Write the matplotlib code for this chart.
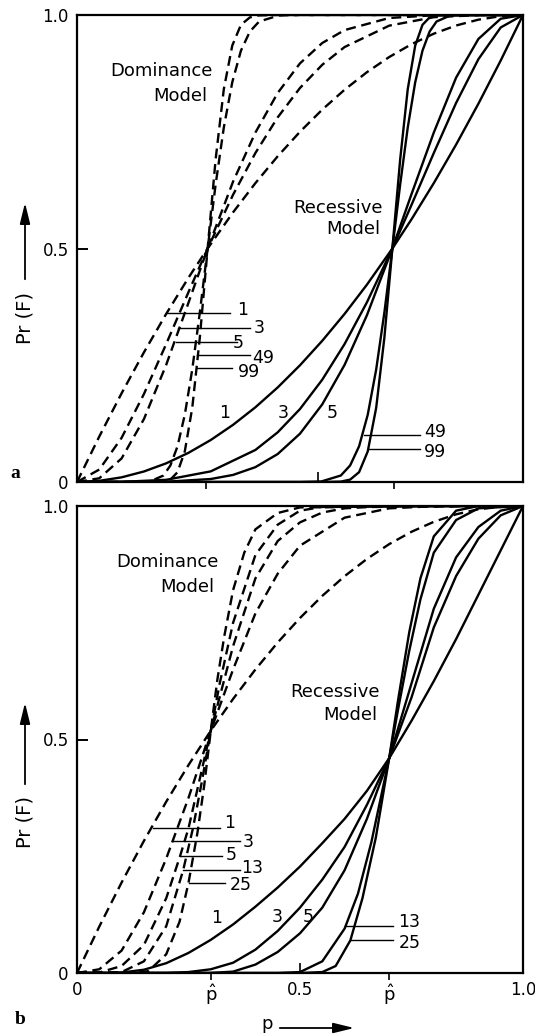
import matplotlib
matplotlib.use("Agg")
import matplotlib.pyplot as plt

plt.rcParams['font.family'] = ['DejaVu Sans']
plt.rcParams['mathtext.fontset'] = 'dejavusans'

# ---- panel a: dominance model (dashed)
a_dom = {
    1: ([0, 0.05, 0.1, 0.15, 0.2, 0.25, 0.2929, 0.35, 0.4, 0.45, 0.5, 0.55, 0.6, 0.65, 0.7, 0.75, 0.8, 0.85, 0.9, 0.95, 1.0],
        [0, 0.0975, 0.19, 0.2775, 0.36, 0.4375, 0.5, 0.5775, 0.64, 0.6975, 0.75, 0.7975, 0.84, 0.8775, 0.91, 0.9375, 0.96, 0.9775, 0.99, 0.9975, 1.0]),
    3: ([0, 0.05, 0.1, 0.15, 0.2, 0.25, 0.2929, 0.35, 0.4, 0.45, 0.5, 0.55, 0.6, 0.7, 0.8, 0.9, 1.0],
        [0, 0.0267, 0.0946, 0.1883, 0.2955, 0.4067, 0.5, 0.6153, 0.7045, 0.7808, 0.8438, 0.8935, 0.9314, 0.9772, 0.9953, 0.9997, 1.0]),
    5: ([0, 0.05, 0.1, 0.15, 0.2, 0.25, 0.2929, 0.35, 0.4, 0.45, 0.5, 0.55, 0.6, 0.7, 0.8, 1.0],
        [0, 0.008, 0.0505, 0.1346, 0.2509, 0.384, 0.5, 0.6434, 0.7483, 0.8331, 0.8965, 0.9401, 0.9677, 0.9936, 0.9994, 1.0]),
    49: ([0, 0.1, 0.134, 0.1633, 0.1938, 0.2094, 0.2254, 0.2417, 0.2584, 0.2754, 0.2929, 0.3108, 0.3292, 0.3481, 0.3675, 0.3876, 0.4084, 0.4523, 0.5, 1.0],
         [0, 0, 0, 0.0011, 0.0139, 0.0354, 0.0765, 0.1441, 0.2409, 0.363, 0.5, 0.637, 0.7591, 0.8559, 0.9235, 0.9646, 0.9861, 0.9989, 1.0, 1.0]),
    99: ([0, 0.1, 0.134, 0.1633, 0.1938, 0.2094, 0.2254, 0.2417, 0.2584, 0.2754, 0.2929, 0.3108, 0.3292, 0.3481, 0.3675, 0.3876, 0.4084, 0.4523, 0.5, 1.0],
         [0, 0, 0, 0, 0.0009, 0.0051, 0.0211, 0.0655, 0.1587, 0.3092, 0.5, 0.6908, 0.8413, 0.9345, 0.9789, 0.9949, 0.9991, 1.0, 1.0, 1.0]),
}

# ---- panel a: recessive model (solid)
a_rec = {
    1: ([0, 0.05, 0.1, 0.15, 0.2, 0.25, 0.3, 0.35, 0.4, 0.45, 0.5, 0.55, 0.6, 0.65, 0.7071, 0.75, 0.8, 0.85, 0.9, 0.95, 1.0],
        [0, 0.0025, 0.01, 0.0225, 0.04, 0.0625, 0.09, 0.1225, 0.16, 0.2025, 0.25, 0.3025, 0.36, 0.4225, 0.5, 0.5625, 0.64, 0.7225, 0.81, 0.9025, 1.0]),
    3: ([0, 0.1, 0.2, 0.3, 0.4, 0.45, 0.5, 0.55, 0.6, 0.65, 0.7071, 0.75, 0.8, 0.85, 0.9, 0.95, 1.0],
        [0, 0.0003, 0.0047, 0.0228, 0.0686, 0.1064, 0.1563, 0.2192, 0.2955, 0.3847, 0.5, 0.5933, 0.7045, 0.8117, 0.9054, 0.9733, 1.0]),
    5: ([0, 0.2, 0.3, 0.35, 0.4, 0.45, 0.5, 0.55, 0.6, 0.65, 0.7071, 0.75, 0.8, 0.85, 0.9, 0.95, 1.0],
        [0, 0.0006, 0.0064, 0.0152, 0.0318, 0.0599, 0.1035, 0.1664, 0.2509, 0.357, 0.5, 0.6164, 0.7483, 0.8659, 0.9487, 0.992, 1.0]),
    49: ([0, 0.5, 0.5477, 0.5916, 0.6124, 0.6325, 0.6519, 0.6708, 0.6892, 0.7071, 0.7246, 0.7416, 0.7583, 0.7746, 0.7906, 0.8062, 0.8367, 0.87, 1.0],
         [0, 0, 0.0011, 0.0139, 0.0354, 0.0765, 0.1441, 0.2409, 0.363, 0.5, 0.637, 0.7591, 0.8559, 0.9235, 0.9646, 0.9861, 0.9989, 1.0, 1.0]),
    99: ([0, 0.5, 0.5477, 0.5916, 0.6124, 0.6325, 0.6519, 0.6708, 0.6892, 0.7071, 0.7246, 0.7416, 0.7583, 0.7746, 0.7906, 0.8062, 0.8367, 0.87, 1.0],
         [0, 0, 0, 0.0009, 0.0051, 0.0211, 0.0655, 0.1587, 0.3092, 0.5, 0.6908, 0.8413, 0.9345, 0.9789, 0.9949, 0.9991, 1.0, 1.0, 1.0]),
}

# ---- panel b: dominance model (dashed)
b_dom = {
    1: ([0, 0.05, 0.1, 0.15, 0.2, 0.25, 0.3, 0.35, 0.4, 0.45, 0.5, 0.55, 0.6, 0.65, 0.7, 0.75, 0.8, 0.85, 0.9, 0.96, 1.0],
        [0, 0.0995, 0.1938, 0.2828, 0.3667, 0.4453, 0.519, 0.5869, 0.6499, 0.7077, 0.7602, 0.8076, 0.8497, 0.8866, 0.9184, 0.9448, 0.9661, 0.9822, 0.9931, 0.9992, 1.0]),
    3: ([0, 0.05, 0.1, 0.15, 0.2, 0.25, 0.3, 0.35, 0.4, 0.45, 0.5, 0.6, 0.7, 0.8, 0.9, 1.0],
        [0, 0.008, 0.048, 0.13, 0.245, 0.375, 0.519, 0.65, 0.77, 0.855, 0.915, 0.975, 0.995, 0.9995, 1.0, 1.0]),
    5: ([0, 0.05, 0.1, 0.15, 0.2, 0.231, 0.25, 0.3, 0.35, 0.4, 0.45, 0.5, 0.55, 0.6, 0.67, 0.8, 1.0],
        [0, 0.001, 0.015, 0.06, 0.16, 0.25, 0.31, 0.519, 0.7, 0.845, 0.925, 0.965, 0.986, 0.995, 0.999, 1.0, 1.0]),
    13: ([0, 0.1, 0.15, 0.2, 0.238, 0.26, 0.28, 0.3, 0.32, 0.35, 0.4, 0.45, 0.5, 0.55, 1.0],
         [0, 0.002, 0.025, 0.1, 0.22, 0.31, 0.41, 0.519, 0.62, 0.75, 0.895, 0.96, 0.99, 0.998, 1.0]),
    25: ([0, 0.12, 0.16, 0.2, 0.23, 0.25, 0.27, 0.285, 0.3, 0.315, 0.33, 0.35, 0.375, 0.4, 0.45, 0.5, 1.0],
         [0, 0, 0.004, 0.04, 0.11, 0.193, 0.3, 0.4, 0.519, 0.63, 0.72, 0.82, 0.9, 0.95, 0.985, 0.997, 1.0]),
}

# ---- panel b: recessive model (solid)
b_rec = {
    1: ([0, 0.07, 0.1, 0.15, 0.2, 0.25, 0.3, 0.35, 0.4, 0.45, 0.5, 0.55, 0.6, 0.65, 0.7, 0.75, 0.8, 0.85, 0.9, 0.95, 1.0],
        [0, 0, 0.001, 0.007, 0.021, 0.043, 0.071, 0.104, 0.142, 0.183, 0.228, 0.278, 0.33, 0.39, 0.46, 0.54, 0.625, 0.715, 0.81, 0.905, 1.0]),
    3: ([0, 0.2, 0.25, 0.3, 0.35, 0.4, 0.45, 0.5, 0.55, 0.6, 0.65, 0.7, 0.75, 0.8, 0.85, 0.9, 0.95, 1.0],
        [0, 0, 0.002, 0.008, 0.022, 0.05, 0.09, 0.14, 0.2, 0.27, 0.36, 0.46, 0.59, 0.74, 0.85, 0.93, 0.98, 1.0]),
    5: ([0, 0.3, 0.35, 0.4, 0.45, 0.5, 0.55, 0.6, 0.65, 0.7, 0.75, 0.8, 0.85, 0.9, 0.95, 1.0],
        [0, 0, 0.003, 0.018, 0.045, 0.085, 0.14, 0.22, 0.33, 0.46, 0.62, 0.78, 0.89, 0.955, 0.99, 1.0]),
    13: ([0, 0.45, 0.5, 0.55, 0.6, 0.63, 0.66, 0.7, 0.72, 0.745, 0.77, 0.8, 0.85, 0.9, 1.0],
         [0, 0, 0.002, 0.025, 0.095, 0.17, 0.28, 0.46, 0.565, 0.69, 0.8, 0.9, 0.97, 0.995, 1.0]),
    25: ([0, 0.5, 0.55, 0.58, 0.613, 0.64, 0.67, 0.7, 0.72, 0.745, 0.77, 0.8, 0.85, 0.9, 1.0],
         [0, 0, 0.002, 0.015, 0.07, 0.16, 0.29, 0.46, 0.585, 0.73, 0.845, 0.935, 0.99, 1.0, 1.0]),
}

# curve labels: (text, label x, label y, leader x0, leader x1, leader y)
a_dom_labels = [("1", 0.372, 0.368, 0.201, 0.343, 0.362),
                ("3", 0.408, 0.330, 0.226, 0.388, 0.330),
                ("5", 0.362, 0.298, 0.222, 0.359, 0.300),
                ("49", 0.418, 0.266, 0.270, 0.388, 0.272),
                ("99", 0.385, 0.236, 0.268, 0.348, 0.244)]
a_rec_labels = [("1", 0.332, 0.148), ("3", 0.462, 0.148), ("5", 0.572, 0.148)]
a_rec_lead = [("49", 0.803, 0.107, 0.643, 0.769, 0.101),
              ("99", 0.803, 0.064, 0.655, 0.769, 0.071)]

b_dom_labels = [("1", 0.343, 0.321, 0.171, 0.321, 0.310),
                ("3", 0.383, 0.281, 0.214, 0.365, 0.283),
                ("5", 0.345, 0.253, 0.231, 0.325, 0.251),
                ("13", 0.392, 0.225, 0.238, 0.365, 0.221),
                ("25", 0.367, 0.188, 0.250, 0.332, 0.193)]
b_rec_labels = [("1", 0.314, 0.118), ("3", 0.448, 0.120), ("5", 0.518, 0.120)]
b_rec_lead = [("13", 0.745, 0.109, 0.601, 0.709, 0.101),
              ("25", 0.747, 0.064, 0.612, 0.709, 0.071)]

W, H = 535, 1034
fig = plt.figure(figsize=(W / 100, H / 100), dpi=100)
ax_a = fig.add_axes([77 / W, 1 - 482 / H, 446 / W, 467 / H])
ax_b = fig.add_axes([77 / W, 1 - 973 / H, 446 / W, 467 / H])

LW = 1.7
DASH = (4.2, 2.4)
FS = 12.5


def draw_panel(ax, dom, rec, dom_labels, rec_labels, rec_lead):
    for n, (p, pr) in dom.items():
        ax.plot(p, pr, color="black", lw=LW, dashes=DASH, solid_capstyle="butt")
    for n, (p, pr) in rec.items():
        ax.plot(p, pr, color="black", lw=LW)
    for t, lx, ly, x0, x1, y in dom_labels:
        ax.plot([x0, x1], [y, y], color="black", lw=1.0)
        ax.text(lx, ly, t, fontsize=FS, ha="center", va="center")
    for t, lx, ly in rec_labels:
        ax.text(lx, ly, t, fontsize=FS, ha="center", va="center")
    for t, lx, ly, x0, x1, y in rec_lead:
        ax.plot([x0, x1], [y, y], color="black", lw=1.0)
        ax.text(lx, ly, t, fontsize=FS, ha="center", va="center")
    ax.set_xlim(0, 1)
    ax.set_ylim(0, 1)
    for s in ax.spines.values():
        s.set_linewidth(1.6)
    ax.set_yticks([0, 0.5, 1.0], ["0", "0.5", "1.0"])
    ax.tick_params(axis="y", direction="in", length=8, width=1.4, pad=6, labelsize=12)


draw_panel(ax_a, a_dom, a_rec, a_dom_labels, a_rec_labels, a_rec_lead)
draw_panel(ax_b, b_dom, b_rec, b_dom_labels, b_rec_labels, b_rec_lead)

ax_a.text(0.190, 0.880, "Dominance", fontsize=13, ha="center", va="center")
ax_a.text(0.231, 0.827, "Model", fontsize=13, ha="center", va="center")
ax_a.text(0.585, 0.587, "Recessive", fontsize=13, ha="center", va="center")
ax_a.text(0.619, 0.542, "Model", fontsize=13, ha="center", va="center")
ax_b.text(0.202, 0.880, "Dominance", fontsize=13, ha="center", va="center")
ax_b.text(0.247, 0.827, "Model", fontsize=13, ha="center", va="center")
ax_b.text(0.578, 0.602, "Recessive", fontsize=13, ha="center", va="center")
ax_b.text(0.612, 0.552, "Model", fontsize=13, ha="center", va="center")

# x ticks, panel a (no labels)
ax_a.set_xticks([0.29, 0.71], ["", ""])
ax_a.set_xticks([0.54], [""], minor=True)
ax_a.tick_params(axis="x", which="major", direction="out", length=5, width=1.2)
ax_a.tick_params(axis="x", which="minor", direction="in", length=7, width=1.2)

# x ticks, panel b
phat = r"$\hat{\mathrm{p}}$"
ax_b.set_xticks([0.3, 0.7], [phat, phat])
ax_b.set_xticks([0, 0.5, 1.0], ["0", "0.5", "1.0"], minor=True)
ax_b.tick_params(axis="x", which="major", direction="out", length=5, width=1.2, labelsize=13, pad=2)
ax_b.tick_params(axis="x", which="minor", direction="in", length=7, width=1.2, labelsize=12, pad=6)

# y axis label with arrow
for yc, y0, y1 in [(318, 282, 200), (822, 787, 700)]:
    fig.text(25 / W, 1 - yc / H, "Pr (F)", rotation=90, fontsize=14, ha="center", va="center")
    fig.patches.append(matplotlib.patches.FancyArrowPatch(
        (25 / W, 1 - y0 / H), (25 / W, 1 - y1 / H), transform=fig.transFigure,
        arrowstyle="-|>,head_length=0.9,head_width=0.22", mutation_scale=14,
        lw=1.3, color="black"))

# x axis label with arrow
fig.text(267 / W, 1 - 1024 / H, "p", fontsize=13, ha="center", va="center")
fig.patches.append(matplotlib.patches.FancyArrowPatch(
    (277 / W, 1 - 1028 / H), (357 / W, 1 - 1028 / H), transform=fig.transFigure,
    arrowstyle="-|>,head_length=0.9,head_width=0.22", mutation_scale=14,
    lw=1.3, color="black"))

fig.text(15 / W, 1 - 474 / H, "a", fontsize=14, fontweight="bold", family="Liberation Serif",
         ha="center", va="center")
fig.text(20 / W, 1 - 1020 / H, "b", fontsize=14, fontweight="bold", family="Liberation Serif",
         ha="center", va="center")

fig.savefig("out.png", dpi=100)
